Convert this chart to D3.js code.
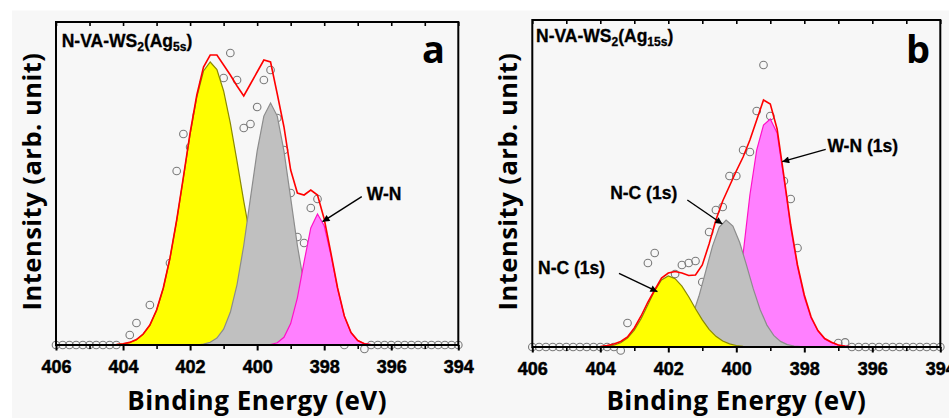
<!DOCTYPE html>
<html>
<head>
<meta charset="utf-8">
<script src="https://cdn.jsdelivr.net/npm/d3@7"></script>
<style>
    body { margin: 0; background: #fff; }
    text { font-family: "Liberation Sans", Arial, sans-serif; font-weight: bold; fill: #000; }
    .title { font-family: "Open Sans", sans-serif; font-weight: 700; letter-spacing: 0.5px; }
    .heavy { stroke: #000; stroke-width: 0.5px; }
</style>
</head>
<body>
<svg id="canvas" width="949" height="418"></svg>
<script>
// ---- tick labels (eV) ----
let majorTicks = [406, 404, 402, 400, 398, 396, 394]
let minorTicks = [405, 403, 401, 399, 397, 395]

// ---- panel a : N-VA-WS2 (Ag 5s) ----  [binding energy, intensity]
let aPoints = [
    [406, 0], [405.8, 0], [405.6, 0], [405.4, 0], [405.2, 0], [405, 0], [404.8, 0], [404.6, 0], [404.4, 0], [404.2, 0],
    [403.8, 10], [403.6, 22], [403.2, 40], [402.6, 82], [402.4, 174], [402.2, 211], [402.0, 198], [401.8, 230], [401.6, 262],
    [401.0, 267], [400.8, 292], [400.6, 265], [400.4, 217], [400.2, 221], [400.0, 238], [399.8, 265], [399.6, 275],
    [399.4, 227], [399.2, 195], [399.0, 152], [398.8, 108], [398.6, 102], [398.4, 137], [398.2, 146],
    [397.4, 0], [396.8, -4], [396.6, 0], [396.4, 0], [396.2, 0], [396, 0], [395.8, 0], [395.6, 0], [395.4, 0],
    [395.2, 0], [395, 0], [394.8, 0], [394.6, 0], [394.4, 0], [394.2, 0], [394, 0]
]
let aEnvelope = [
    [406, 0], [404.4, 0], [404.2, 0.5], [404.0, 1.2], [403.8, 2.6], [403.6, 5.5], [403.4, 11], [403.2, 20], [403.0, 35],
    [402.8, 57], [402.6, 87], [402.4, 125], [402.2, 168], [402.0, 212], [401.8, 250], [401.6, 278], [401.4, 290],
    [401.2, 290], [401.0, 280], [400.8, 270], [400.6, 259], [400.4, 249], [400.2, 261], [400.0, 273], [399.8, 285],
    [399.6, 283], [399.4, 251], [399.2, 218], [399.0, 175], [398.8, 152], [398.6, 150], [398.4, 155], [398.2, 150],
    [398.0, 126], [397.8, 92], [397.6, 57], [397.4, 29], [397.2, 12.5], [397.0, 4.5], [396.8, 1.3], [396.6, 0.3],
    [396.4, 0], [394, 0]
]
let aPeak1 = [
    [406, 0], [404.4, 0], [404.2, 0.5], [404.0, 1.1], [403.8, 2.5], [403.6, 5.3], [403.4, 10.6], [403.2, 19.7],
    [403.0, 34.5], [402.8, 56.5], [402.6, 86.7], [402.4, 124.4], [402.2, 167], [402.0, 210.5], [401.8, 248],
    [401.6, 274], [401.4, 283], [401.2, 275.4], [401.0, 254], [400.8, 221.9], [400.6, 183.6], [400.4, 143.9],
    [400.2, 106.9], [400.0, 75.2], [399.8, 50.1], [399.6, 31.7], [399.4, 18.9], [399.2, 10.7], [399.0, 5.8],
    [398.8, 2.9], [398.6, 1.4], [398.4, 0.6], [398.2, 0.2], [398.0, 0], [394, 0]
]
let aPeak2 = [
    [406, 0], [401.8, 0], [401.6, 0.9], [401.4, 2.7], [401.2, 6.9], [401.0, 15.9], [400.8, 32.7], [400.6, 60.4],
    [400.4, 99.5], [400.2, 146.8], [400.0, 193.8], [399.8, 228.9], [399.6, 242], [399.4, 228.9], [399.2, 193.8],
    [399.0, 146.8], [398.8, 99.5], [398.6, 60.4], [398.4, 32.7], [398.2, 15.9], [398.0, 6.9], [397.8, 2.7],
    [397.6, 0.9], [397.4, 0], [394, 0]
]
let aPeakWN = [
    [406, 0], [399.8, 0], [399.6, 0.5], [399.4, 2.2], [399.2, 7.7], [399.0, 21.4], [398.8, 47.2], [398.6, 83.2],
    [398.4, 117], [398.2, 131], [398.0, 119.2], [397.8, 89.8], [397.6, 56], [397.4, 28.9], [397.2, 12.3],
    [397.0, 4.4], [396.8, 1.3], [396.6, 0.3], [396.4, 0], [394, 0]
]

// ---- panel b : N-VA-WS2 (Ag 15s) ----
let bPoints = [
    [406, 0], [405.8, 0], [405.6, 0], [405.4, 0], [405.2, 0], [405, 0], [404.8, 0], [404.6, 0], [404.4, 0], [404.2, 0],
    [404, 0], [403.8, 0], [403.6, 0], [403.4, -3.5], [403.2, 24], [402.6, 84], [402.4, 94], [401.8, 73], [401.6, 82],
    [401.4, 84], [401.2, 86], [401.0, 65], [400.8, 115], [400.6, 137], [400.4, 140], [400.2, 171], [400.0, 171],
    [399.8, 197], [399.6, 195], [399.4, 236], [399.2, 282], [399.0, 231], [398.6, 166], [398.4, 148], [398.2, 99],
    [397.0, 4], [396.8, 4.6], [396.6, 0], [396.4, 0], [396.2, 0], [396, 0], [395.8, 0], [395.6, 0], [395.4, 0],
    [395.2, 0], [395, 0], [394.8, 0], [394.6, 0], [394.4, 0], [394.2, 0], [394, 0]
]
let bEnvelope = [
    [406, 0], [404.2, 0], [404.0, 0.5], [403.8, 1.5], [403.6, 3], [403.4, 5.5], [403.2, 10], [403.0, 19], [402.8, 31],
    [402.6, 45], [402.4, 57], [402.2, 69], [402.0, 74], [401.8, 75.5], [401.6, 74], [401.4, 71.5], [401.2, 72],
    [401.0, 82], [400.8, 103], [400.6, 127], [400.4, 146], [400.2, 161], [400.0, 176], [399.8, 190], [399.6, 207],
    [399.4, 227], [399.2, 247], [399.0, 243], [398.8, 218], [398.6, 171], [398.4, 122], [398.2, 82], [398.0, 52],
    [397.8, 30], [397.6, 16.5], [397.4, 8.5], [397.2, 4.8], [397.0, 2], [396.8, 0.8], [396.6, 0.2], [396.4, 0], [394, 0]
]
let bPeakNC1 = [
    [406, 0], [404.2, 0], [404.0, 0.2], [403.8, 0.7], [403.6, 1.8], [403.4, 4.3], [403.2, 9.0], [403.0, 16.9],
    [402.8, 28.3], [402.6, 42.3], [402.4, 56.4], [402.2, 67], [402.0, 71], [401.8, 68.3], [401.6, 60.8], [401.4, 50.2],
    [401.2, 38.3], [401.0, 27.1], [400.8, 17.7], [400.6, 10.7], [400.4, 6.0], [400.2, 3.1], [400.0, 1.5],
    [399.8, 0.7], [399.6, 0.3], [399.4, 0], [394, 0]
]
let bPeakNC2 = [
    [406, 0], [402.5, 0], [402.3, 0.4], [402.1, 1.2], [401.9, 3.2], [401.7, 7.6], [401.5, 16.1], [401.3, 30.2],
    [401.1, 50.7], [400.9, 75.7], [400.7, 100.9], [400.5, 119.9], [400.3, 127], [400.1, 120.9], [399.9, 104.5],
    [399.7, 81.8], [399.5, 58.1], [399.3, 37.5], [399.1, 21.9], [398.9, 11.6], [398.7, 5.6], [398.5, 2.4],
    [398.3, 1.0], [398.1, 0.3], [397.9, 0], [394, 0]
]
let bPeakWN = [
    [406, 0], [400.8, 0], [400.6, 2], [400.4, 8], [400.2, 22], [400.0, 50], [399.8, 93], [399.6, 152], [399.4, 197],
    [399.2, 222], [399.0, 228], [398.8, 214], [398.6, 168], [398.4, 119], [398.2, 80], [398.0, 50], [397.8, 29],
    [397.6, 16], [397.4, 8], [397.2, 4.4], [397.0, 2], [396.8, 0.8], [396.6, 0.2], [396.4, 0], [394, 0]
]

// annotations: label position and arrow, in (eV, intensity)
let aNotes = [
    { text: 'W-N', at: [396.73, 145], from: [396.88, 148.3], to: [398.05, 123.3] }
]
let bNotes = [
    { text: 'W-N (1s)', at: [397.32, 195], from: [397.37, 197.7], to: [398.65, 185.3] },
    { text: 'N-C (1s)', at: [403.71, 148], from: [401.44, 147], to: [400.41, 123] },
    { text: 'N-C (1s)', at: [405.83, 73], from: [403.45, 73.7], to: [402.32, 55.3] }
]

const YELLOW = { fill: '#ffff00', stroke: '#8a8a00' }
const GRAY = { fill: '#c0c0c0', stroke: '#8c8c8c' }
const PINK = { fill: '#ff80ff', stroke: '#ff10c8' }

let panels = [
    {
        left: 56, right: 458.3, top: 22, bottom: 345, yMax: 323,
        points: aPoints, envelope: aEnvelope, notes: aNotes,
        peaks: [[aPeak1, YELLOW], [aPeak2, GRAY], [aPeakWN, PINK]],
        sub: '5s', labelDx: 5.7, labelDy: 24.7, letter: 'a', letterX: 433.4
    },
    {
        left: 532.3, right: 940.3, top: 20, bottom: 347, yMax: 327,
        points: bPoints, envelope: bEnvelope, notes: bNotes,
        peaks: [[bPeakWN, PINK], [bPeakNC2, GRAY], [bPeakNC1, YELLOW]],
        sub: '15s', labelDx: 3.7, labelDy: 21.7, letter: 'b', letterX: 918
    }
]

let canvas = d3.select('#canvas')

canvas.append('defs').append('marker')
    .attr('id', 'head')
    .attr('markerUnits', 'userSpaceOnUse')
    .attr('viewBox', '0 0 10 10')
    .attr('refX', 10).attr('refY', 5)
    .attr('markerWidth', 9).attr('markerHeight', 7)
    .attr('orient', 'auto')
    .append('path')
    .attr('d', 'M0,0 L10,5 L0,10 Z')
    .attr('fill', '#000')

canvas.append('rect')
    .attr('x', 12).attr('y', 10.5)
    .attr('width', 937).attr('height', 408)
    .attr('fill', '#f7f7f7')

let drawPanel = (p) => {
    let x = d3.scaleLinear().domain([406, 394]).range([p.left, p.right])
    let y = d3.scaleLinear().domain([0, p.yMax]).range([p.bottom, p.top])
    let g = canvas.append('g')

    // measured points (drawn first, fits cover them)
    g.selectAll('circle')
        .data(p.points)
        .enter()
        .append('circle')
        .attr('cx', d => x(d[0]))
        .attr('cy', d => y(d[1]))
        .attr('r', 3.8)
        .attr('fill', 'none')
        .attr('stroke', '#7a7a7a')
        .attr('stroke-width', 1.1)

    let area = d3.area().x(d => x(d[0])).y0(y(0)).y1(d => y(d[1]))
    let line = d3.line().x(d => x(d[0])).y(d => y(d[1]))

    p.peaks.forEach(([data, style]) => {
        g.append('path').datum(data).attr('d', area).attr('fill', style.fill)
        g.append('path').datum(data).attr('d', line)
            .attr('fill', 'none').attr('stroke', style.stroke).attr('stroke-width', 1.2)
    })

    g.append('path').datum(p.envelope).attr('d', line)
        .attr('fill', 'none').attr('stroke', '#ff0000').attr('stroke-width', 1.6)

    // axes
    let bottomAxis = g.append('g')
        .attr('transform', `translate(0,${p.bottom})`)
        .call(d3.axisBottom(x).tickValues(majorTicks).tickFormat(d3.format('d')).tickSize(5.5).tickPadding(9.5))
    bottomAxis.selectAll('text')
        .attr('class', 'heavy')
        .style('font-size', '18px')
        .style('font-weight', 'bold')
        .style('font-family', '"Liberation Sans", Arial, sans-serif')
    bottomAxis.selectAll('line').attr('stroke-width', 2)

    let minorAxis = g.append('g')
        .attr('transform', `translate(0,${p.bottom})`)
        .call(d3.axisBottom(x).tickValues(minorTicks).tickFormat('').tickSize(4))
    minorAxis.selectAll('line').attr('stroke-width', 1.6)

    let topAxis = g.append('g')
        .attr('transform', `translate(0,${p.top})`)
        .call(d3.axisTop(x).tickValues(majorTicks.concat(minorTicks)).tickFormat('').tickSize(-4))
    topAxis.selectAll('line').attr('stroke-width', 1.6)

    g.selectAll('.domain').remove()

    g.append('rect')
        .attr('x', p.left).attr('y', p.top)
        .attr('width', p.right - p.left).attr('height', p.bottom - p.top)
        .attr('fill', 'none').attr('stroke', '#000').attr('stroke-width', 2)

    // titles
    g.append('text')
        .attr('class', 'title')
        .attr('x', (p.left + p.right) / 2)
        .attr('y', 410)
        .attr('text-anchor', 'middle')
        .style('font-size', '26px')
        .text('Binding Energy (eV)')

    g.append('text')
        .attr('class', 'title')
        .attr('transform', `translate(${p.left - 15.5},${(p.top + p.bottom) / 2 - 2}) rotate(-90)`)
        .attr('text-anchor', 'middle')
        .style('font-size', '25.5px')
        .text('Intensity (arb. unit)')

    let label = g.append('text')
        .attr('class', 'heavy')
        .attr('x', p.left + p.labelDx)
        .attr('y', p.top + p.labelDy)
        .style('font-size', '17.5px')
        .style('stroke-width', '0.3px')
    label.append('tspan').text('N-VA-WS')
    label.append('tspan').text('2').attr('dy', 4).style('font-size', '12px')
    label.append('tspan').text('(Ag').attr('dy', -4)
    label.append('tspan').text(p.sub).attr('dy', 4).style('font-size', '12px')
    label.append('tspan').text(')').attr('dy', -4)

    g.append('text')
        .attr('class', 'title')
        .attr('x', p.letterX)
        .attr('y', 63.3)
        .attr('text-anchor', 'middle')
        .style('font-size', '38px')
        .style('letter-spacing', '0')
        .text(p.letter)

    p.notes.forEach(n => {
        g.append('text')
            .attr('class', 'heavy')
            .attr('x', x(n.at[0]))
            .attr('y', y(n.at[1]))
            .style('font-size', '17.5px')
            .style('stroke-width', '0.3px')
            .text(n.text)
        g.append('line')
            .attr('x1', x(n.from[0])).attr('y1', y(n.from[1]))
            .attr('x2', x(n.to[0])).attr('y2', y(n.to[1]))
            .attr('stroke', '#000').attr('stroke-width', 1.4)
            .attr('marker-end', 'url(#head)')
    })
}

panels.forEach(drawPanel)
</script>
</body>
</html>
